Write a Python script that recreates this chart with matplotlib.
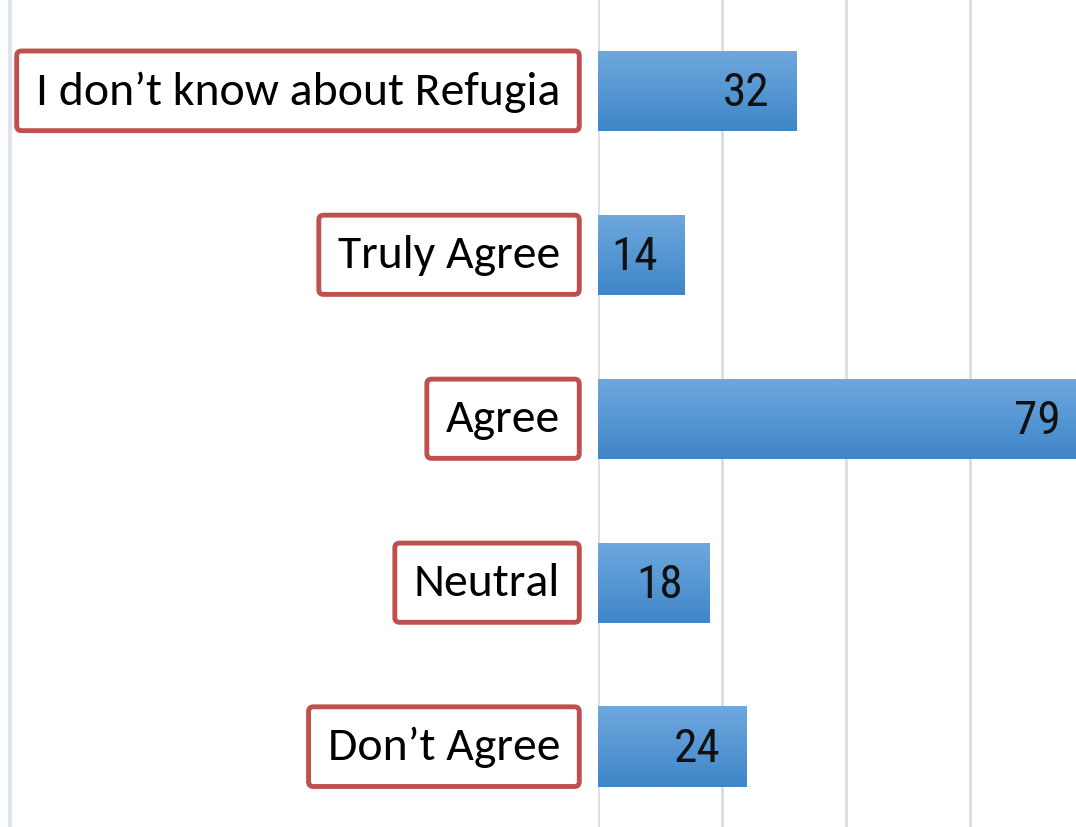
import numpy as np
import matplotlib
matplotlib.use("Agg")
import matplotlib.pyplot as plt
from matplotlib.lines import Line2D

# survey answers, top to bottom
labels = ["I don\u2019t know about Refugia", "Truly Agree", "Agree", "Neutral", "Don\u2019t Agree"]
counts = [32, 14, 79, 18, 24]
grid_ticks = [0, 20, 40, 60]

fig = plt.figure(figsize=(10.76, 8.28), dpi=100)
ax = fig.add_axes([598 / 1076, 0, 1 - 598 / 1076, 1])

y = np.arange(len(labels))
bars = ax.barh(y, counts, height=0.49, color="#5b9bd5", zorder=2)

# vertical gradient like the original office chart
grad = np.linspace(0, 1, 64).reshape(-1, 1)
cmap = matplotlib.colors.LinearSegmentedColormap.from_list("b", ["#6ea8de", "#3f86c8"])
for b in bars:
    x0, y0 = b.get_x(), b.get_y()
    im = ax.imshow(grad, cmap=cmap, aspect="auto", zorder=3,
                   extent=[x0, x0 + b.get_width(), y0 + b.get_height(), y0])
    im.set_clip_path(b)

ax.set_xlim(0, 77.1)
ax.set_ylim(4.49, -0.56)
ax.set_xticks(grid_ticks)
ax.grid(axis="x", color="#dadde2", linewidth=2, zorder=0)
ax.set_yticks([])
ax.tick_params(axis="x", length=0, labelbottom=False)
for s in ax.spines.values():
    s.set_visible(False)

# values inside bars (narrow font)
for yi, v in zip(y, counts):
    ax.text(v - 4.3, yi + 0.01, str(v), ha="right", va="center", fontsize=34,
            family=["Roboto Condensed", "Liberation Sans Narrow", "Roboto", "DejaVu Sans"],
            color="#111111", zorder=4)

# boxed category labels
for yi, lab in zip(y, labels):
    ax.text(-6.1, yi, lab, ha="right", va="center", fontsize=34.4,
            family=["Carlito", "Lato", "DejaVu Sans"], color="black", clip_on=False,
            bbox=dict(boxstyle="round,pad=0.4,rounding_size=0.1", fc="white",
                      ec="#c0504d", lw=3.5))

# faint frame line on the far left
fig.add_artist(Line2D([10 / 1076, 10 / 1076], [0, 1], color="#dfe4ec", lw=3))

fig.savefig("out.png", dpi=100)
